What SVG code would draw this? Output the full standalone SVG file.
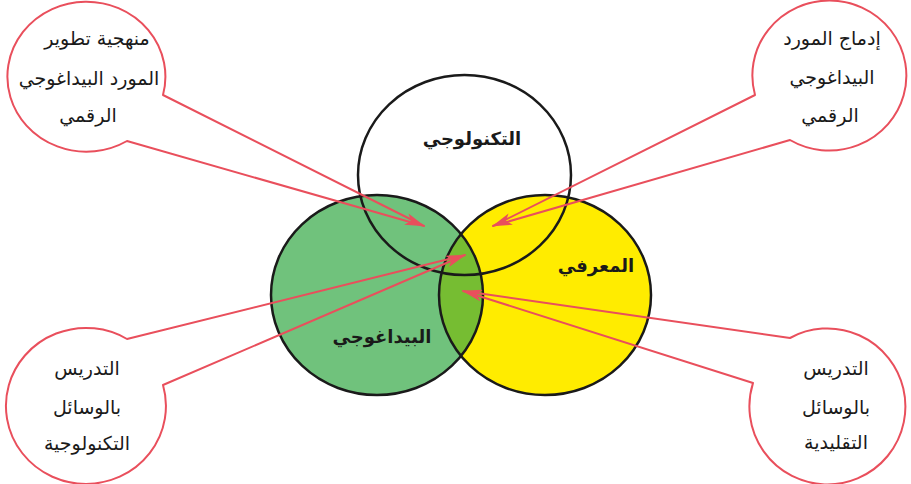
<svg xmlns="http://www.w3.org/2000/svg" width="911" height="484" viewBox="0 0 911 484">
<style>
.c{stroke:#1a1a1a;stroke-width:2.5}
.lab{font-family:"DejaVu Sans","Noto Sans",sans-serif;font-size:18px;font-weight:bold;fill:#1a1a1a;text-anchor:middle}
.bt{font-family:"DejaVu Sans","Noto Sans",sans-serif;font-size:19px;fill:#1a1a1a;text-anchor:middle}
.tail{fill:none;stroke:#e94f5c;stroke-width:2;stroke-linejoin:round}
.ah{stroke:none;fill:none}
</style>
<defs>
<clipPath id="clipY"><ellipse cx="545" cy="295" rx="106" ry="100"/></clipPath>
<marker id="arr" viewBox="0 0 20 12" refX="19" refY="6" markerWidth="20" markerHeight="12" markerUnits="userSpaceOnUse" orient="auto">
<path d="M0,0 L20,6 L0,12 L5,6 Z" fill="#e94f5c"/>
</marker>
</defs>
<rect width="911" height="484" fill="#ffffff"/>
<g id="pedagogical">
<ellipse cx="377" cy="295" rx="106" ry="100" fill="#70c27c"/>
</g>
<g id="cognitive">
<ellipse cx="545" cy="295" rx="106" ry="100" fill="#ffec00"/>
</g>
<g id="overlap">
<ellipse cx="377" cy="295" rx="106" ry="100" fill="#76bd32" clip-path="url(#clipY)"/>
</g>
<g id="outlines">
<ellipse class="c" cx="377" cy="295" rx="106" ry="100" fill="none"/>
<ellipse class="c" cx="545" cy="295" rx="106" ry="100" fill="none"/>
</g>
<g id="technological">
<ellipse class="c" cx="464.5" cy="175" rx="106.5" ry="100" fill="none"/>
<text class="lab" x="472" y="145">التكنولوجي</text>
</g>
<text class="lab" x="596" y="272">المعرفي</text>
<text class="lab" x="382" y="343">البيداغوجي</text>
<g id="connectors">
<path class="tail" d="M163,95 A79,75 0 1 0 127,141 L424,226 Z"/>
<path class="tail" d="M755,95 A77,75 0 1 1 790,140 L493,226 Z"/>
<path class="tail" d="M127,339 A80,78 0 1 0 163,385 L465,255 Z"/>
<path class="tail" d="M790,338 A78,78 0 1 1 753,383 L463,291 Z"/>
<line class="ah" x1="396" y1="215" x2="424" y2="226" stroke="#e94f5c" marker-end="url(#arr)"/>
<line class="ah" x1="521" y1="215" x2="493" y2="226" stroke="#e94f5c" marker-end="url(#arr)"/>
<line class="ah" x1="437" y1="265" x2="465" y2="255" stroke="#e94f5c" marker-end="url(#arr)"/>
<line class="ah" x1="492" y1="298" x2="463" y2="291" stroke="#e94f5c" marker-end="url(#arr)"/>
</g>
<g id="callout-tl">
<text class="bt" x="97" y="45">منهجية تطوير</text>
<text class="bt" x="89" y="85">المورد البيداغوجي</text>
<text class="bt" x="88" y="122">الرقمي</text>
</g>
<g id="callout-tr">
<text class="bt" x="832" y="45">إدماج المورد</text>
<text class="bt" x="832" y="84">البيداغوجي</text>
<text class="bt" x="830" y="122">الرقمي</text>
</g>
<g id="callout-bl">
<text class="bt" x="87" y="375">التدريس</text>
<text class="bt" x="87" y="414">بالوسائل</text>
<text class="bt" x="87" y="450">التكنولوجية</text>
</g>
<g id="callout-br">
<text class="bt" x="836" y="375">التدريس</text>
<text class="bt" x="836" y="414">بالوسائل</text>
<text class="bt" x="836" y="449">التقليدية</text>
</g>
</svg>
